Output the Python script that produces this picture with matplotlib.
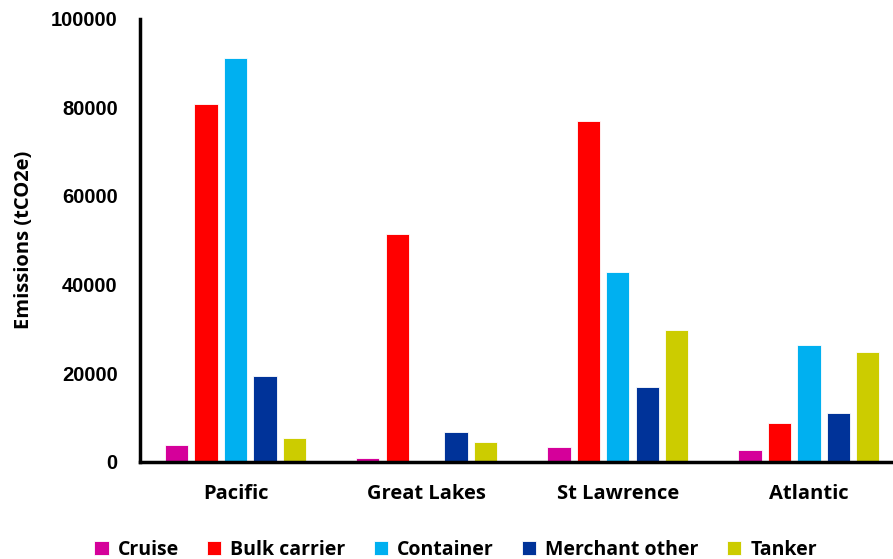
import numpy as np
import matplotlib
matplotlib.use("Agg")
import matplotlib.pyplot as plt

regions = ["Pacific", "Great Lakes", "St Lawrence", "Atlantic"]
ship_types = ["Cruise", "Bulk carrier", "Container", "Merchant other", "Tanker"]

cruise = [3800, 900, 3250, 2600]
bulk_carrier = [80750, 51400, 76900, 8700]
container = [91200, 0, 42800, 26300]
merchant_other = [19400, 6650, 16800, 10900]
tanker = [5300, 4400, 29800, 24800]

colors = ["#D5009A", "#FF0000", "#00B0F0", "#003399", "#CCCC00"]

series = [cruise, bulk_carrier, container, merchant_other, tanker]
label_font = {"family": "Open Sans", "weight": "bold", "size": 14.5}

fig = plt.figure(figsize=(8.93, 5.59), dpi=100)
ax = fig.add_axes([0.1568, 0.174, 0.8432, 0.7925])

x = np.arange(len(regions))
pitch = 0.154
width = 0.122
handles = []
for i, (vals, name) in enumerate(zip(series, ship_types)):
    b = ax.bar(x + (i - 2) * pitch, vals, width, color=colors[i],
               edgecolor="white", linewidth=0.6, label=name)
    handles.append(b)

ax.set_ylim(0, 100000)
ax.set_xlim(-0.5, 3.44)
ax.set_yticks(np.arange(0, 100001, 20000))
ax.set_xticks(x)
ax.set_xticklabels(regions, fontdict=label_font)
for lab in ax.get_yticklabels():
    lab.set_fontfamily("Liberation Sans")
    lab.set_fontweight("bold")
    lab.set_fontsize(14.5)
ax.tick_params(axis="both", length=0)
ax.tick_params(axis="x", pad=16)
ax.tick_params(axis="y", pad=16)

for side in ["top", "right"]:
    ax.spines[side].set_visible(False)
for side in ["left", "bottom"]:
    ax.spines[side].set_linewidth(2.5)
    ax.spines[side].set_color("black")

ax.set_ylabel("Emissions (tCO2e)", fontdict=label_font, labelpad=12)

fig.legend(handles=handles, labels=ship_types, loc="lower center", bbox_to_anchor=(0.51, -0.033),
           ncol=5, frameon=False, handlelength=0.75, handleheight=0.75, handletextpad=0.45,
           columnspacing=1.45, prop={"family": "Open Sans", "weight": "bold", "size": 14})

fig.savefig("out.png", dpi=100)
